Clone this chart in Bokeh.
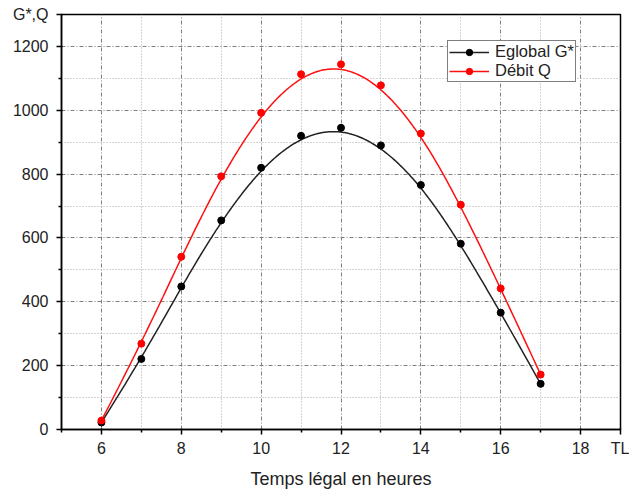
import numpy as np
from bokeh.plotting import figure
from bokeh.models import FixedTicker, Range1d, Legend, LegendItem
from bokeh.embed import file_html
from bokeh.resources import INLINE

hours = [6, 7, 8, 9, 10, 11, 12, 13, 14, 15, 16, 17]
eglobal = [22, 221, 448, 655, 820, 920, 945, 890, 766, 582, 366, 143]
debit = [28, 269, 541, 793, 992, 1113, 1144, 1078, 927, 704, 442, 172]

x_major = [6, 8, 10, 12, 14, 16, 18, 19]
x_minor = [5, 7, 9, 11, 13, 15, 17]
y_major = [0, 200, 400, 600, 800, 1000, 1200, 1300]
y_minor = [100, 300, 500, 700, 900, 1100]

FONT = "Liberation Sans"


def bspline(px, py, degree=3, samples=300):
    """Clamped B-spline that uses the data points as control points
    (the 'B-Spline' line connection of the original plot)."""
    px = np.asarray(px, float)
    py = np.asarray(py, float)
    n = len(px)
    inner = np.arange(1, n - degree)
    knots = np.concatenate([np.zeros(degree + 1), inner, np.full(degree + 1, n - degree)])
    t = np.linspace(0, n - degree, samples)
    t[-1] -= 1e-9
    # Cox-de Boor
    B = np.zeros((samples, len(knots) - 1))
    for i in range(len(knots) - 1):
        B[:, i] = (t >= knots[i]) & (t < knots[i + 1])
    for k in range(1, degree + 1):
        Bn = np.zeros((samples, len(knots) - 1 - k))
        for i in range(len(knots) - 1 - k):
            a = np.zeros(samples)
            b = np.zeros(samples)
            d1 = knots[i + k] - knots[i]
            d2 = knots[i + k + 1] - knots[i + 1]
            if d1 > 0:
                a = (t - knots[i]) / d1 * B[:, i]
            if d2 > 0:
                b = (knots[i + k + 1] - t) / d2 * B[:, i + 1]
            Bn[:, i] = a + b
        B = Bn
    return B @ px, B @ py


p = figure(width=629, height=494, output_backend="svg", toolbar_location=None,
           x_range=Range1d(5, 19), y_range=Range1d(0, 1300),
           min_border_left=61, min_border_right=9, min_border_top=14, min_border_bottom=65)

p.outline_line_color = "black"
p.outline_line_width = 1.5
p.background_fill_color = "white"

for ax in (p.xaxis[0], p.yaxis[0]):
    ax.axis_line_color = "black"
    ax.axis_line_width = 1.5
    ax.major_tick_line_color = "black"
    ax.major_tick_line_width = 1.5
    ax.minor_tick_line_color = "black"
    ax.minor_tick_line_width = 1.5
    ax.major_tick_out = 5
    ax.major_tick_in = 1
    ax.minor_tick_out = 3
    ax.minor_tick_in = 0
    ax.major_label_text_font = FONT
    ax.major_label_text_font_size = "16px"
    ax.major_label_text_color = "#222222"
    ax.axis_label_text_font = FONT
    ax.axis_label_text_font_style = "normal"
    ax.axis_label_text_font_size = "18px"
    ax.axis_label_text_color = "#222222"

p.xaxis.ticker = FixedTicker(ticks=x_major, minor_ticks=x_minor)
p.yaxis.ticker = FixedTicker(ticks=y_major, minor_ticks=y_minor)
p.xaxis.major_label_overrides = {19: "TL"}
p.yaxis.major_label_overrides = {1300: "G*,Q"}
p.xaxis.major_label_standoff = 5
p.yaxis.major_label_standoff = 8
p.xaxis.axis_label = "Temps légal en heures"
p.xaxis.axis_label_standoff = 9

for g in (p.xgrid[0], p.ygrid[0]):
    g.grid_line_color = "#808080"
    g.grid_line_width = 1
    g.grid_line_dash = "4 2 1 2"
    g.minor_grid_line_color = "#a8a8a8"
    g.minor_grid_line_width = 1
    g.minor_grid_line_dash = "1 2"

ex, ey = bspline(hours, eglobal)
dx, dy = bspline(hours, debit)

le = p.line(ex, ey, line_color="#222222", line_width=1.5)
se = p.scatter(hours, eglobal, size=7, fill_color="black", line_color="black")
ld = p.line(dx, dy, line_color="#ff1010", line_width=1.5)
sd = p.scatter(hours, debit, size=7, fill_color="#ff0000", line_color="#ff0000")

legend = Legend(items=[LegendItem(label="Eglobal G*", renderers=[le, se]),
                       LegendItem(label="Débit Q", renderers=[ld, sd])],
                location=(386, 347), border_line_color="black", border_line_width=1.5,
                background_fill_color="white", background_fill_alpha=1,
                label_text_font=FONT, label_text_font_size="16.5px", label_text_color="#222222",
                glyph_width=40, glyph_height=16, label_height=16, spacing=0,
                padding=1, margin=0, label_standoff=6)
p.add_layout(legend, "center")

open("out.html", "w").write(file_html(p, INLINE))
